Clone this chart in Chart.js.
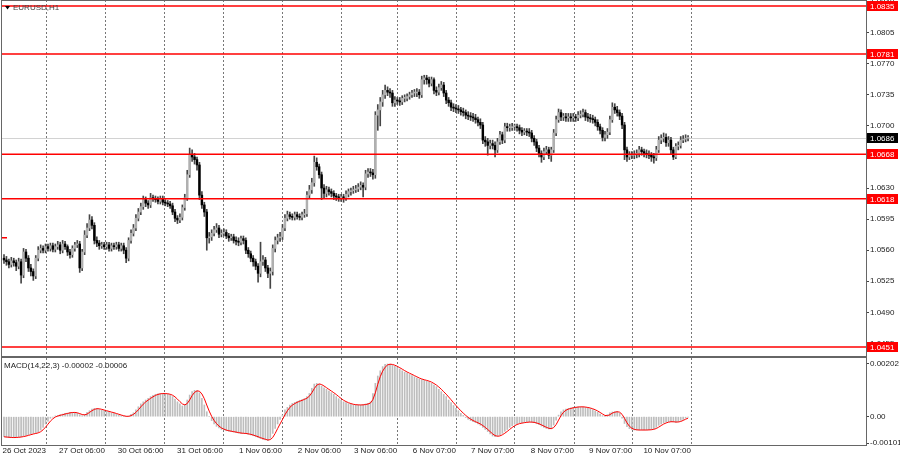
<!DOCTYPE html>
<html>
<head>
<meta charset="utf-8">
<script src="https://cdn.jsdelivr.net/npm/chart.js@4.4.0/dist/chart.umd.min.js"></script>
<style>
    html, body { margin: 0; padding: 0; background: #fff; }
    #wrap { position: relative; width: 900px; height: 460px; overflow: hidden; background: #fff; }
    canvas { position: absolute; left: 0; }
    #main { top: 0; }
    #macd { top: 357px; }
</style>
</head>
<body>
<div id="wrap">
    <canvas id="main" width="900" height="357"></canvas>
    <canvas id="macd" width="900" height="103"></canvas>
</div>
<script>
// EURUSD H1, 26 Oct - 10 Nov 2023
const symbolTitle = 'EURUSD,H1';
const macdParams = '14,22,3';

const firstOpen = 1.0551;
const closes = [
    1.0549, 1.0547, 1.0544, 1.0548, 1.0546, 1.0542, 1.0547, 1.0532, 1.0558, 1.0551,
    1.0540, 1.0536, 1.0531, 1.0551, 1.0560, 1.0562, 1.0560, 1.0564, 1.0562, 1.0565,
    1.0561, 1.0564, 1.0566, 1.0560, 1.0567, 1.0564, 1.0558, 1.0555, 1.0562, 1.0566,
    1.0567, 1.0540, 1.0558, 1.0577, 1.0585, 1.0594, 1.0588, 1.0571, 1.0568, 1.0565,
    1.0566, 1.0564, 1.0566, 1.0562, 1.0565, 1.0564, 1.0566, 1.0562, 1.0565, 1.0560,
    1.0551, 1.0571, 1.0579, 1.0585, 1.0596, 1.0603, 1.0609, 1.0617, 1.0613, 1.0611,
    1.0619, 1.0618, 1.0617, 1.0615, 1.0618, 1.0614, 1.0613, 1.0612, 1.0610, 1.0603,
    1.0596, 1.0594, 1.0597, 1.0608, 1.0619, 1.0645, 1.0667, 1.0665, 1.0662, 1.0656,
    1.0622, 1.0611, 1.0603, 1.0574, 1.0575, 1.0579, 1.0583, 1.0585, 1.0578, 1.0579,
    1.0580, 1.0576, 1.0574, 1.0575, 1.0571, 1.0570, 1.0569, 1.0573, 1.0571, 1.0560,
    1.0556, 1.0551, 1.0547, 1.0542, 1.0534, 1.0547, 1.0549, 1.0540, 1.0534, 1.0536,
    1.0562, 1.0571, 1.0574, 1.0575, 1.0585, 1.0596, 1.0600, 1.0598, 1.0597, 1.0600,
    1.0598, 1.0597, 1.0600, 1.0601, 1.0622, 1.0628, 1.0636, 1.0659, 1.0654, 1.0645,
    1.0630, 1.0624, 1.0628, 1.0626, 1.0624, 1.0621, 1.0620, 1.0619, 1.0620, 1.0619,
    1.0623, 1.0626, 1.0627, 1.0628, 1.0629, 1.0631, 1.0633, 1.0631, 1.0646, 1.0648,
    1.0647, 1.0645, 1.0712, 1.0718, 1.0727, 1.0735, 1.0740, 1.0738, 1.0737, 1.0726,
    1.0729, 1.0728, 1.0727, 1.0731, 1.0731, 1.0733, 1.0735, 1.0737, 1.0737, 1.0738,
    1.0735, 1.0752, 1.0754, 1.0752, 1.0748, 1.0752, 1.0740, 1.0738, 1.0743, 1.0746,
    1.0737, 1.0729, 1.0726, 1.0721, 1.0720, 1.0719, 1.0718, 1.0716, 1.0715, 1.0712,
    1.0711, 1.0710, 1.0709, 1.0707, 1.0704, 1.0701, 1.0684, 1.0682, 1.0678, 1.0680,
    1.0678, 1.0673, 1.0682, 1.0690, 1.0684, 1.0699, 1.0698, 1.0698, 1.0699, 1.0699,
    1.0698, 1.0695, 1.0693, 1.0694, 1.0693, 1.0692, 1.0686, 1.0682, 1.0675, 1.0669,
    1.0665, 1.0671, 1.0673, 1.0667, 1.0673, 1.0692, 1.0707, 1.0715, 1.0710, 1.0710,
    1.0709, 1.0710, 1.0709, 1.0710, 1.0709, 1.0712, 1.0713, 1.0715, 1.0710, 1.0709,
    1.0708, 1.0707, 1.0704, 1.0699, 1.0695, 1.0687, 1.0690, 1.0693, 1.0707, 1.0721,
    1.0718, 1.0715, 1.0711, 1.0701, 1.0673, 1.0665, 1.0667, 1.0667, 1.0668, 1.0669,
    1.0673, 1.0671, 1.0669, 1.0668, 1.0667, 1.0665, 1.0664, 1.0673, 1.0684, 1.0686,
    1.0687, 1.0681, 1.0684, 1.0673, 1.0665, 1.0677, 1.0678, 1.0684, 1.0685, 1.0686, 1.0686
];
const highs = [
    1.0555, 1.0553, 1.0550, 1.0552, 1.0551, 1.0549, 1.0551, 1.0550, 1.0562, 1.0561,
    1.0554, 1.0544, 1.0539, 1.0554, 1.0564, 1.0566, 1.0565, 1.0567, 1.0567, 1.0568,
    1.0568, 1.0567, 1.0570, 1.0569, 1.0571, 1.0570, 1.0566, 1.0561, 1.0565, 1.0569,
    1.0571, 1.0570, 1.0561, 1.0582, 1.0590, 1.0600, 1.0598, 1.0591, 1.0575, 1.0571,
    1.0569, 1.0569, 1.0569, 1.0569, 1.0568, 1.0568, 1.0569, 1.0569, 1.0568, 1.0568,
    1.0563, 1.0574, 1.0583, 1.0589, 1.0600, 1.0607, 1.0613, 1.0621, 1.0620, 1.0616,
    1.0624, 1.0622, 1.0621, 1.0620, 1.0621, 1.0621, 1.0617, 1.0616, 1.0615, 1.0613,
    1.0606, 1.0599, 1.0601, 1.0611, 1.0623, 1.0650, 1.0675, 1.0673, 1.0669, 1.0665,
    1.0659, 1.0626, 1.0614, 1.0606, 1.0580, 1.0583, 1.0587, 1.0590, 1.0588, 1.0583,
    1.0584, 1.0583, 1.0579, 1.0578, 1.0578, 1.0575, 1.0574, 1.0576, 1.0576, 1.0574,
    1.0563, 1.0559, 1.0554, 1.0550, 1.0545, 1.0569, 1.0554, 1.0552, 1.0543, 1.0540,
    1.0566, 1.0575, 1.0578, 1.0580, 1.0589, 1.0600, 1.0604, 1.0603, 1.0601, 1.0603,
    1.0603, 1.0601, 1.0603, 1.0606, 1.0626, 1.0633, 1.0641, 1.0666, 1.0664, 1.0657,
    1.0648, 1.0634, 1.0632, 1.0631, 1.0629, 1.0627, 1.0624, 1.0623, 1.0623, 1.0623,
    1.0627, 1.0629, 1.0630, 1.0632, 1.0633, 1.0635, 1.0637, 1.0636, 1.0650, 1.0652,
    1.0652, 1.0651, 1.0716, 1.0724, 1.0732, 1.0740, 1.0746, 1.0744, 1.0742, 1.0740,
    1.0733, 1.0732, 1.0732, 1.0734, 1.0735, 1.0736, 1.0738, 1.0740, 1.0741, 1.0742,
    1.0741, 1.0756, 1.0757, 1.0757, 1.0755, 1.0755, 1.0754, 1.0744, 1.0747, 1.0750,
    1.0749, 1.0740, 1.0732, 1.0729, 1.0725, 1.0724, 1.0723, 1.0721, 1.0720, 1.0718,
    1.0716, 1.0715, 1.0714, 1.0713, 1.0710, 1.0708, 1.0704, 1.0688, 1.0686, 1.0684,
    1.0684, 1.0682, 1.0686, 1.0694, 1.0693, 1.0703, 1.0703, 1.0702, 1.0703, 1.0702,
    1.0702, 1.0701, 1.0698, 1.0697, 1.0697, 1.0697, 1.0695, 1.0689, 1.0685, 1.0678,
    1.0672, 1.0675, 1.0677, 1.0676, 1.0676, 1.0696, 1.0711, 1.0719, 1.0718, 1.0714,
    1.0714, 1.0714, 1.0714, 1.0714, 1.0713, 1.0716, 1.0717, 1.0719, 1.0718, 1.0714,
    1.0713, 1.0712, 1.0710, 1.0707, 1.0702, 1.0698, 1.0694, 1.0697, 1.0711, 1.0726,
    1.0725, 1.0722, 1.0718, 1.0714, 1.0704, 1.0676, 1.0671, 1.0671, 1.0672, 1.0673,
    1.0677, 1.0676, 1.0674, 1.0673, 1.0672, 1.0670, 1.0669, 1.0677, 1.0688, 1.0690,
    1.0692, 1.0691, 1.0688, 1.0687, 1.0676, 1.0680, 1.0682, 1.0688, 1.0689, 1.0690, 1.0689
];
const lows = [
    1.0545, 1.0543, 1.0540, 1.0541, 1.0542, 1.0537, 1.0539, 1.0523, 1.0529, 1.0547,
    1.0536, 1.0531, 1.0526, 1.0528, 1.0548, 1.0557, 1.0557, 1.0557, 1.0559, 1.0559,
    1.0558, 1.0558, 1.0561, 1.0556, 1.0557, 1.0561, 1.0554, 1.0551, 1.0552, 1.0559,
    1.0563, 1.0535, 1.0537, 1.0555, 1.0574, 1.0582, 1.0584, 1.0567, 1.0564, 1.0561,
    1.0562, 1.0561, 1.0561, 1.0559, 1.0559, 1.0561, 1.0561, 1.0559, 1.0559, 1.0556,
    1.0546, 1.0548, 1.0568, 1.0576, 1.0582, 1.0593, 1.0600, 1.0606, 1.0609, 1.0607,
    1.0608, 1.0615, 1.0614, 1.0612, 1.0612, 1.0611, 1.0610, 1.0609, 1.0607, 1.0600,
    1.0592, 1.0590, 1.0591, 1.0594, 1.0605, 1.0616, 1.0642, 1.0660, 1.0657, 1.0650,
    1.0617, 1.0607, 1.0598, 1.0560, 1.0568, 1.0571, 1.0576, 1.0580, 1.0574, 1.0575,
    1.0576, 1.0573, 1.0570, 1.0571, 1.0568, 1.0566, 1.0565, 1.0566, 1.0567, 1.0556,
    1.0552, 1.0547, 1.0542, 1.0538, 1.0524, 1.0530, 1.0543, 1.0536, 1.0529, 1.0517,
    1.0532, 1.0558, 1.0567, 1.0570, 1.0572, 1.0582, 1.0593, 1.0595, 1.0594, 1.0594,
    1.0595, 1.0594, 1.0594, 1.0597, 1.0598, 1.0618, 1.0624, 1.0632, 1.0650, 1.0641,
    1.0617, 1.0619, 1.0620, 1.0622, 1.0620, 1.0617, 1.0616, 1.0615, 1.0615, 1.0614,
    1.0616, 1.0620, 1.0622, 1.0624, 1.0625, 1.0626, 1.0628, 1.0620, 1.0628, 1.0642,
    1.0643, 1.0640, 1.0641, 1.0695, 1.0700, 1.0722, 1.0731, 1.0734, 1.0732, 1.0722,
    1.0722, 1.0724, 1.0723, 1.0724, 1.0727, 1.0728, 1.0730, 1.0732, 1.0733, 1.0733,
    1.0731, 1.0732, 1.0747, 1.0747, 1.0744, 1.0745, 1.0736, 1.0734, 1.0735, 1.0740,
    1.0733, 1.0725, 1.0722, 1.0717, 1.0716, 1.0715, 1.0714, 1.0712, 1.0711, 1.0708,
    1.0707, 1.0706, 1.0705, 1.0703, 1.0700, 1.0697, 1.0680, 1.0677, 1.0667, 1.0674,
    1.0674, 1.0665, 1.0670, 1.0679, 1.0680, 1.0681, 1.0694, 1.0694, 1.0695, 1.0695,
    1.0694, 1.0691, 1.0689, 1.0690, 1.0689, 1.0688, 1.0682, 1.0678, 1.0671, 1.0665,
    1.0659, 1.0662, 1.0668, 1.0663, 1.0660, 1.0670, 1.0689, 1.0704, 1.0706, 1.0706,
    1.0705, 1.0705, 1.0705, 1.0705, 1.0705, 1.0706, 1.0709, 1.0710, 1.0706, 1.0705,
    1.0704, 1.0703, 1.0700, 1.0695, 1.0691, 1.0683, 1.0683, 1.0686, 1.0690, 1.0704,
    1.0714, 1.0711, 1.0707, 1.0697, 1.0662, 1.0660, 1.0662, 1.0663, 1.0663, 1.0664,
    1.0665, 1.0667, 1.0665, 1.0664, 1.0663, 1.0660, 1.0658, 1.0661, 1.0670, 1.0680,
    1.0682, 1.0677, 1.0677, 1.0668, 1.0662, 1.0663, 1.0673, 1.0675, 1.0681, 1.0682, 1.0683
];
// MACD main line (histogram)
const macdMain = [
    -0.00077, -0.00079, -0.00080, -0.00080, -0.00080, -0.00079, -0.00078, -0.00077, -0.00074, -0.00072,
    -0.00069, -0.00066, -0.00064, -0.00063, -0.00059, -0.00051, -0.00041, -0.00028, -0.00017, -0.00006,
    -0.00001, 0.00003, 0.00005, 0.00008, 0.00010, 0.00013, 0.00014, 0.00017, 0.00017, 0.00015,
    0.00013, 0.00008, 0.00004, 0.00009, 0.00017, 0.00023, 0.00029, 0.00032, 0.00031, 0.00028,
    0.00026, 0.00023, 0.00020, 0.00018, 0.00015, 0.00013, 0.00009, 0.00006, 0.00004, 0.00001,
    0.00000, 0.00003, 0.00009, 0.00015, 0.00026, 0.00038, 0.00049, 0.00057, 0.00064, 0.00070,
    0.00077, 0.00082, 0.00086, 0.00088, 0.00089, 0.00089, 0.00088, 0.00087, 0.00083, 0.00077,
    0.00068, 0.00057, 0.00049, 0.00041, 0.00046, 0.00064, 0.00083, 0.00096, 0.00101, 0.00100,
    0.00092, 0.00070, 0.00045, 0.00019, 0.00000, -0.00015, -0.00028, -0.00037, -0.00043, -0.00049,
    -0.00051, -0.00054, -0.00056, -0.00057, -0.00059, -0.00061, -0.00063, -0.00064, -0.00064, -0.00065,
    -0.00068, -0.00070, -0.00073, -0.00077, -0.00080, -0.00084, -0.00087, -0.00089, -0.00092, -0.00083,
    -0.00064, -0.00045, -0.00028, -0.00010, 0.00006, 0.00026, 0.00036, 0.00045, 0.00051, 0.00055,
    0.00059, 0.00063, 0.00066, 0.00070, 0.00077, 0.00089, 0.00109, 0.00125, 0.00128, 0.00124,
    0.00118, 0.00111, 0.00105, 0.00098, 0.00092, 0.00086, 0.00077, 0.00069, 0.00063, 0.00057,
    0.00054, 0.00050, 0.00047, 0.00046, 0.00045, 0.00045, 0.00045, 0.00046, 0.00049, 0.00051,
    0.00057, 0.00089, 0.00128, 0.00156, 0.00176, 0.00192, 0.00201, 0.00202, 0.00201, 0.00198,
    0.00193, 0.00188, 0.00183, 0.00176, 0.00171, 0.00167, 0.00162, 0.00158, 0.00153, 0.00148,
    0.00144, 0.00142, 0.00139, 0.00137, 0.00133, 0.00128, 0.00121, 0.00115, 0.00105, 0.00096,
    0.00086, 0.00077, 0.00064, 0.00054, 0.00043, 0.00032, 0.00023, 0.00013, 0.00005, -0.00003,
    -0.00010, -0.00015, -0.00019, -0.00023, -0.00028, -0.00033, -0.00041, -0.00049, -0.00057, -0.00066,
    -0.00074, -0.00077, -0.00074, -0.00070, -0.00064, -0.00056, -0.00049, -0.00041, -0.00034, -0.00029,
    -0.00027, -0.00024, -0.00023, -0.00022, -0.00020, -0.00020, -0.00022, -0.00023, -0.00027, -0.00031,
    -0.00036, -0.00041, -0.00045, -0.00047, -0.00046, -0.00032, -0.00013, 0.00006, 0.00019, 0.00026,
    0.00029, 0.00032, 0.00034, 0.00036, 0.00037, 0.00038, 0.00038, 0.00037, 0.00036, 0.00033,
    0.00031, 0.00027, 0.00022, 0.00017, 0.00010, 0.00004, 0.00000, 0.00008, 0.00015, 0.00018,
    0.00019, 0.00020, 0.00013, -0.00006, -0.00026, -0.00038, -0.00046, -0.00049, -0.00051, -0.00051,
    -0.00051, -0.00051, -0.00051, -0.00051, -0.00050, -0.00049, -0.00046, -0.00041, -0.00033, -0.00028,
    -0.00024, -0.00020, -0.00019, -0.00019, -0.00020, -0.00022, -0.00019, -0.00014, -0.00010, -0.00005, -0.00002
];

// horizontal levels drawn on the chart
const levels = [1.0835, 1.0781, 1.0668, 1.0618, 1.0451];
const leftMark = 1.0574;

// axis ticks
const priceTicks = [1.0455, 1.0490, 1.0525, 1.0560, 1.0595, 1.0630, 1.0665, 1.0700, 1.0735, 1.0770, 1.0805, 1.0840];
const macdTicks = [-0.00101, 0, 0.00202];
const gridIdx = [17.2, 41.3, 65.3, 89.6, 113.8, 137.9, 160.9, 185.0, 208.8, 233.3, 257.1, 281.2];
const timeLabels = ['26 Oct 2023', '27 Oct 06:00', '30 Oct 06:00', '31 Oct 06:00', '1 Nov 06:00', '2 Nov 06:00',
    '3 Nov 06:00', '6 Nov 07:00', '7 Nov 07:00', '8 Nov 07:00', '9 Nov 07:00', '10 Nov 07:00'];

// view ranges
const xMin = -0.82, xMax = 352.84;
const priceMin = 1.044086, priceMax = 1.084176;
const macdMin = -0.001085, macdMax = 0.00225;

const FONT = '"Liberation Sans", Arial, sans-serif';
Chart.defaults.font.family = FONT;
Chart.defaults.font.size = 8;
Chart.defaults.color = '#222';

const opens = [firstOpen].concat(closes.slice(0, -1));
const idx = closes.map((c, i) => i);
// signal = SMA(3) of the main line
const signal = macdMain.map((v, i) => {
    const part = macdMain.slice(Math.max(0, i - 2), i + 1);
    return part.reduce((a, b) => a + b, 0) / part.length;
});
const bid = closes[closes.length - 1];

function noPad(s) {
    s.paddingLeft = 0; s.paddingRight = 0; s.paddingTop = 0; s.paddingBottom = 0;
}

function drawGrid(chart) {
    const { ctx, chartArea: a, scales: { x } } = chart;
    ctx.save();
    ctx.strokeStyle = '#777';
    ctx.lineWidth = 1;
    ctx.setLineDash([2, 2]);
    gridIdx.forEach(g => {
        const px = Math.round(x.getPixelForValue(g)) + 0.5;
        ctx.beginPath();
        ctx.moveTo(px, a.top);
        ctx.lineTo(px, a.bottom);
        ctx.stroke();
    });
    ctx.restore();
}

function axisTag(ctx, a, yPx, text, bg) {
    ctx.fillStyle = bg;
    ctx.fillRect(a.right + 1, Math.round(yPx) - 5, 31, 10);
    ctx.fillStyle = '#fff';
    ctx.font = '8px ' + FONT;
    ctx.textAlign = 'left';
    ctx.textBaseline = 'middle';
    ctx.fillText(text, a.right + 4, Math.round(yPx) + 0.5);
}

const mainDecor = {
    id: 'mainDecor',
    beforeDatasetsDraw(chart) {
        const { ctx, chartArea: a, scales: { y } } = chart;
        drawGrid(chart);
        // bid line
        ctx.save();
        const by = Math.round(y.getPixelForValue(bid)) + 0.5;
        ctx.strokeStyle = '#d2d2d2';
        ctx.lineWidth = 1;
        ctx.beginPath();
        ctx.moveTo(a.left, by);
        ctx.lineTo(a.right, by);
        ctx.stroke();
        ctx.restore();
    },
    afterDatasetsDraw(chart) {
        const { ctx, chartArea: a, scales: { y } } = chart;
        ctx.save();
        ctx.strokeStyle = '#ff0000';
        ctx.lineWidth = 1.5;
        levels.forEach(l => {
            const py = y.getPixelForValue(l);
            ctx.beginPath();
            ctx.moveTo(a.left, py);
            ctx.lineTo(a.right, py);
            ctx.stroke();
        });
        const my = y.getPixelForValue(leftMark);
        ctx.beginPath();
        ctx.moveTo(a.left, my);
        ctx.lineTo(a.left + 5, my);
        ctx.stroke();
        ctx.restore();
    },
    afterDraw(chart) {
        const { ctx, chartArea: a, scales: { y } } = chart;
        ctx.save();
        // frame
        ctx.fillStyle = '#666';
        ctx.fillRect(1, 0, a.right, 1);
        ctx.fillRect(1, 0, 1, chart.height);
        ctx.fillRect(a.right, 0, 1, chart.height);
        ctx.fillRect(1, a.bottom, a.right, 1);
        // level tags on the price axis
        levels.forEach(l => axisTag(ctx, a, y.getPixelForValue(l), l.toFixed(4), '#ff0000'));
        axisTag(ctx, a, y.getPixelForValue(bid), bid.toFixed(4), '#000');
        // title
        ctx.fillStyle = '#000';
        ctx.beginPath();
        ctx.moveTo(5, 6);
        ctx.lineTo(10, 6);
        ctx.lineTo(7.5, 9.5);
        ctx.closePath();
        ctx.fill();
        ctx.fillStyle = '#444';
        ctx.font = '8px ' + FONT;
        ctx.textAlign = 'left';
        ctx.textBaseline = 'middle';
        ctx.fillText(symbolTitle, 13, 8);
        ctx.restore();
    }
};

const macdDecor = {
    id: 'macdDecor',
    beforeDatasetsDraw(chart) {
        drawGrid(chart);
    },
    afterDraw(chart) {
        const { ctx, chartArea: a } = chart;
        ctx.save();
        ctx.fillStyle = '#666';
        ctx.fillRect(1, 0, a.right, 1);
        ctx.fillRect(1, 0, 1, a.bottom + 1);
        ctx.fillRect(a.right, 0, 1, a.bottom + 1);
        ctx.fillRect(1, a.bottom, a.right, 1);
        const last = macdMain.length - 1;
        ctx.fillStyle = '#222';
        ctx.font = '8px ' + FONT;
        ctx.textAlign = 'left';
        ctx.textBaseline = 'middle';
        ctx.fillText('MACD(' + macdParams + ') ' + macdMain[last].toFixed(5) + ' ' + signal[last].toFixed(5), 4, 8.5);
        ctx.restore();
    }
};

// Price chart - candles
new Chart(document.getElementById('main'), {
    type: 'bar',
    data: {
        datasets: [
            {
                data: idx.map(i => ({ x: i, y: [lows[i], highs[i]] })),
                backgroundColor: '#454545',
                grouped: false,
                barPercentage: 1,
                categoryPercentage: 1,
                maxBarThickness: 1,
                order: 2
            },
            {
                data: idx.map(i => ({ x: i, y: [opens[i], closes[i]] })),
                backgroundColor: idx.map(i => closes[i] >= opens[i] ? '#b0b0b0' : '#000000'),
                grouped: false,
                barPercentage: 1,
                categoryPercentage: 1,
                maxBarThickness: 1.8,
                minBarLength: 1,
                order: 1
            }
        ]
    },
    options: {
        responsive: false,
        animation: false,
        events: [],
        layout: { padding: { left: 2, top: 0, right: 0, bottom: 1 } },
        plugins: { legend: { display: false }, tooltip: { enabled: false } },
        scales: {
            x: { type: 'linear', min: xMin, max: xMax, offset: false, display: false, afterFit: noPad },
            y: {
                position: 'right',
                min: priceMin,
                max: priceMax,
                afterFit: s => { s.width = 34; noPad(s); },
                afterBuildTicks: s => { s.ticks = priceTicks.map(v => ({ value: v })); },
                ticks: { callback: v => v.toFixed(4), padding: 1, color: '#222' },
                grid: { drawOnChartArea: false, tickLength: 3, tickColor: '#444' },
                border: { display: false }
            }
        }
    },
    plugins: [mainDecor]
});

// MACD panel
new Chart(document.getElementById('macd'), {
    type: 'bar',
    data: {
        datasets: [
            {
                type: 'line',
                data: idx.map(i => ({ x: i, y: signal[i] })),
                borderColor: '#ff0000',
                borderWidth: 1,
                pointRadius: 0,
                tension: 0,
                order: 0
            },
            {
                data: idx.map(i => ({ x: i, y: macdMain[i] })),
                backgroundColor: '#bdbdbd',
                grouped: false,
                barPercentage: 1,
                categoryPercentage: 1,
                maxBarThickness: 1,
                order: 1
            }
        ]
    },
    options: {
        responsive: false,
        animation: false,
        events: [],
        layout: { padding: { left: 2, top: 1, right: 0, bottom: 0 } },
        plugins: { legend: { display: false }, tooltip: { enabled: false } },
        scales: {
            x: {
                type: 'linear',
                min: xMin,
                max: xMax,
                offset: false,
                afterFit: s => { s.height = 15; noPad(s); },
                afterBuildTicks: s => { s.ticks = gridIdx.map(v => ({ value: v })); },
                ticks: {
                    align: 'end', autoSkip: false, maxRotation: 0, minRotation: 0, padding: 1, color: '#222',
                    callback: (v, i) => timeLabels[i]
                },
                grid: { display: false, drawTicks: false },
                border: { display: false }
            },
            y: {
                position: 'right',
                min: macdMin,
                max: macdMax,
                afterFit: s => { s.width = 34; noPad(s); },
                afterBuildTicks: s => { s.ticks = macdTicks.map(v => ({ value: v })); },
                ticks: { callback: v => v === 0 ? '0.00' : v.toFixed(5), padding: 1, color: '#222' },
                grid: { drawOnChartArea: false, tickLength: 3, tickColor: '#444' },
                border: { display: false }
            }
        }
    },
    plugins: [macdDecor]
});
</script>
</body>
</html>
